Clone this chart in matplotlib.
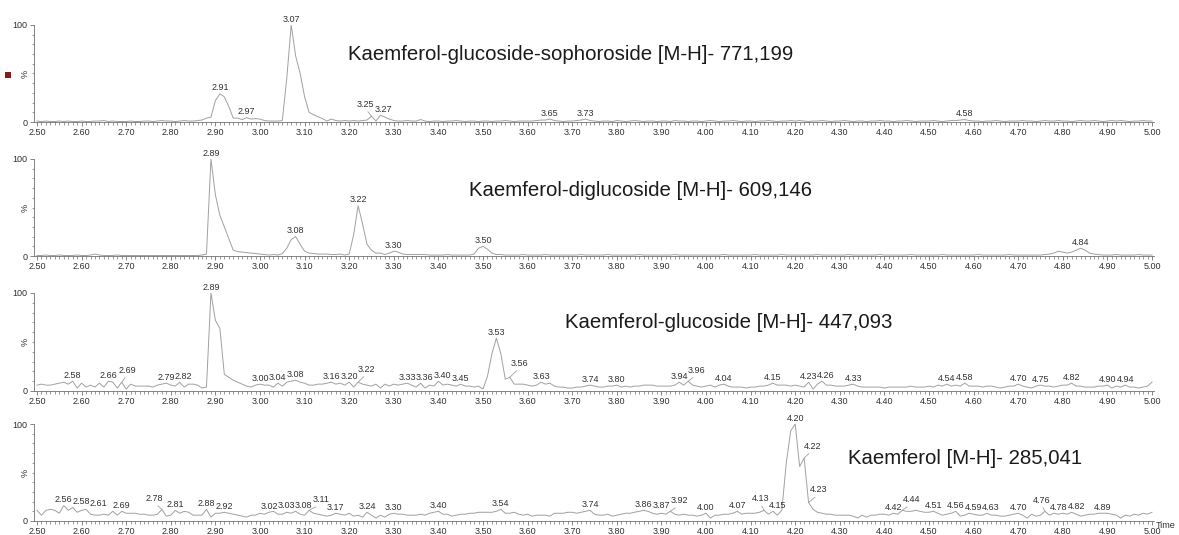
import numpy as np
import matplotlib
matplotlib.use("Agg")
import matplotlib.pyplot as plt
from matplotlib.ticker import FixedLocator, MultipleLocator, FormatStrFormatter
from matplotlib.patches import Rectangle

plt.rcParams['font.family'] = ['Liberation Sans', 'DejaVu Sans']

# Retention time axis of the extracted-ion chromatograms (min), one scan every 0.01 min
scan_times = np.round(np.arange(2.50, 5.0001, 0.01), 2)

# Relative intensity (%) per scan, m/z 771,199
kgs_771 = [
    1.0, 0.5, 1.0, 0.5, 0.5, 1.0, 0.5, 1.0, 0.5, 0.5,
    1.0, 0.5, 0.5, 1.0, 1.0, 1.5, 0.5, 1.0, 0.5, 0.5,
    0.5, 1.0, 0.5, 0.5, 1.0, 1.0, 0.5, 1.0, 1.5, 1.0,
    1.0, 0.5, 1.0, 1.5, 1.0, 1.0, 1.5, 2.0, 4.0, 5.0,
    22, 29, 26, 16, 4, 4, 2.5, 4.5, 3, 3.5,
    3, 1.5, 1, 1, 1, 1.5, 45, 100, 68, 50,
    26, 10, 7.5, 5.5, 3.5, 1, 3, 1.5, 1, 1.5,
    1, 1.5, 1, 1.5, 2, 6, 1, 7, 5, 3,
    1.5, 1, 1, 1.5, 1, 1, 2.5, 1, 0.5, 1,
    1, 0.5, 1, 1, 1.5, 1, 0.5, 1, 1, 0.5,
    1, 1, 0.5, 1, 1, 1.5, 1, 0.5, 1, 1,
    1, 1, 1.5, 2, 2, 3, 1.5, 1, 0.5, 1,
    1, 1.5, 2, 3, 1.5, 1, 0.5, 1, 1, 0.5,
    1.5, 1, 0.5, 1, 1.5, 1, 0.5, 1, 1, 0.5,
    1, 1, 0.5, 1.5, 1, 1, 0.5, 1, 1, 0.5,
    1, 1.5, 1, 0.5, 1, 1, 1.5, 1, 0.5, 1,
    1, 0.5, 1, 1, 1.5, 1, 0.5, 1, 1, 1.5,
    1, 1.5, 1, 0.5, 1, 1, 1.5, 1, 0.5, 1,
    1, 1.5, 1, 0.5, 1, 1, 0.5, 1, 1, 1.5,
    1, 1, 0.5, 1, 1, 1.5, 1, 0.5, 1, 1,
    1, 1.5, 1, 0.5, 1, 1.5, 1.5, 2, 2.5, 1.5,
    1, 1, 0.5, 1, 1, 1.5, 1, 0.5, 1, 1,
    1, 1.5, 1, 1, 0.5, 1, 1.5, 1, 1, 1.5,
    1, 1, 0.5, 1, 1.5, 1, 1, 1.5, 1, 0.5,
    1, 1.5, 1, 1.5, 1, 0.5, 1, 1, 1.5, 1,
    1,
]

# m/z 609,146
kdg_609 = [
    0.5, 0.5, 1, 0.5, 0.5, 1, 0.5, 0.5, 0.5, 1,
    0.5, 0.5, 1, 2, 1, 0.5, 0.5, 0.5, 1, 0.5,
    0.5, 0.5, 0.5, 0.5, 0.5, 0.5, 0.5, 0.5, 0.5, 0.5,
    0.5, 0.5, 0.5, 0.5, 0.5, 0.5, 0.5, 1, 2, 100,
    63, 42, 30, 18, 6, 4.5, 4, 3.5, 3, 2.5,
    2, 1.5, 1, 1.5, 1, 2.5, 8, 17, 20, 12,
    5, 3, 2.5, 2, 2, 2, 1.5, 1.5, 2, 1,
    2, 22, 52, 33, 12, 6, 3, 3, 1.5, 3,
    5, 4, 2, 1.5, 1.5, 1.5, 1.5, 1.5, 1, 1,
    1, 1, 1.5, 1, 1, 1, 1, 1, 2, 8,
    10, 7, 3, 1.5, 1.5, 1, 1, 1, 1, 1.5,
    1, 1, 1, 1, 1.5, 1, 1, 1, 1, 1,
    1, 1, 1.5, 1, 1, 1, 1, 1, 1.5, 1,
    1, 1, 1, 1, 1, 1.5, 1, 1, 1, 1,
    1, 1, 1, 1.5, 1, 1, 1, 1, 1, 1,
    1, 1, 1, 1, 1.5, 1, 1, 1, 1, 1,
    1, 1.5, 1, 1, 1, 1, 1, 1.5, 1, 1,
    1, 1, 1, 1, 1, 1.5, 1, 1, 1, 1,
    1, 1, 1.5, 1, 1, 1, 1, 1, 1, 1.5,
    1, 1, 1, 1, 1, 1, 1.5, 1, 1, 1,
    1, 1, 1, 1.5, 1, 1, 1, 1, 1, 1,
    1, 1.5, 1, 1, 1, 1, 1, 1, 1.5, 1,
    1, 1, 1, 1, 1, 1, 1.5, 2, 3, 5,
    4, 3, 4, 6, 8, 6, 3, 2, 1.5, 1,
    1, 1, 1.5, 1, 1, 1, 1, 1.5, 1, 1,
    1,
]

# m/z 447,093
kg_447 = [
    6, 7, 6, 6, 7, 8, 9, 7, 10, 3,
    8, 4, 6, 4, 8, 4, 10, 9, 3, 9,
    2, 7, 5, 5, 5, 5, 4, 6, 7, 8,
    6, 5, 9, 4, 7, 7, 6, 3, 4, 100,
    72, 64, 17, 14, 11, 9, 7, 5, 4, 6,
    7, 6, 6, 4, 8, 5, 9, 10, 11, 9,
    8, 6, 6, 7, 7, 8, 9, 7, 8, 6,
    9, 4, 9, 7, 6, 5, 7, 3, 7, 5,
    7, 6, 7, 8, 6, 4, 8, 3, 6, 5,
    10, 6, 7, 6, 5, 7, 5, 5, 4, 5,
    2, 15, 38, 54, 38, 12, 14, 7, 7, 7,
    6, 5, 6, 9, 7, 8, 5, 4, 4, 3,
    3, 4, 4, 5, 6, 5, 4, 4, 5, 5,
    6, 4, 5, 4, 5, 5, 6, 6, 6, 5,
    5, 5, 5, 6, 9, 6, 10, 6, 5, 4,
    5, 6, 4, 6, 7, 5, 4, 4, 4, 3,
    4, 4, 5, 5, 6, 8, 6, 6, 6, 5,
    6, 5, 4, 9, 2, 7, 10, 6, 6, 5,
    5, 5, 6, 7, 5, 4, 4, 4, 4, 4,
    3, 4, 4, 4, 4, 4, 5, 4, 4, 4,
    5, 4, 6, 5, 7, 5, 6, 5, 8, 5,
    5, 5, 4, 5, 5, 4, 3, 4, 5, 5,
    7, 5, 4, 3, 5, 6, 5, 5, 4, 5,
    6, 6, 8, 5, 5, 4, 4, 4, 5, 5,
    6, 3, 5, 4, 6, 4, 4, 3, 4, 5,
    9,
]

# m/z 285,041
k_285 = [
    11, 6, 11, 12, 11, 8, 16, 11, 14, 9,
    11, 12, 7, 6, 6, 7, 6, 10, 6, 10,
    8, 8, 8, 7, 7, 6, 6, 7, 12, 5,
    6, 11, 8, 10, 9, 6, 6, 6, 12, 4,
    8, 8, 9, 8, 7, 6, 5, 4, 6, 6,
    8, 7, 9, 10, 7, 7, 9, 8, 10, 7,
    6, 11, 8, 7, 6, 5, 6, 8, 7, 6,
    8, 5, 6, 4, 9, 6, 3, 6, 4, 7,
    8, 7, 7, 6, 6, 6, 7, 6, 8, 9,
    10, 7, 7, 5, 6, 7, 7, 8, 8, 9,
    9, 9, 9, 10, 12, 8, 8, 9, 7, 6,
    7, 5, 6, 6, 6, 5, 8, 8, 8, 9,
    9, 8, 9, 10, 11, 7, 6, 6, 7, 5,
    6, 7, 8, 8, 9, 10, 11, 10, 8, 7,
    8, 7, 10, 7, 6, 7, 6, 6, 5, 6,
    8, 3, 6, 6, 7, 7, 8, 10, 7, 8,
    8, 8, 9, 11, 7, 10, 6, 11, 60, 93,
    100, 56, 65, 19, 12, 9, 8, 7, 7, 6,
    6, 6, 6, 5, 3, 6, 4, 6, 6, 7,
    7, 6, 8, 7, 11, 10, 10, 11, 10, 9,
    9, 10, 8, 6, 7, 8, 10, 5, 6, 8,
    7, 6, 6, 8, 6, 6, 5, 5, 6, 7,
    8, 6, 3, 7, 5, 6, 10, 6, 8, 7,
    8, 7, 9, 7, 5, 6, 7, 7, 8, 8,
    8, 7, 6, 3, 6, 5, 7, 6, 8, 7,
    9,
]

traces = [kgs_771, kdg_609, kg_447, k_285]

titles = [
    "Kaemferol-glucoside-sophoroside [M-H]- 771,199",
    "Kaemferol-diglucoside [M-H]- 609,146",
    "Kaemferol-glucoside [M-H]- 447,093",
    "Kaemferol [M-H]- 285,041",
]

# Retention times annotated on each trace
peak_times = [
    [2.91, 2.97, 3.07, 3.25, 3.27, 3.65, 3.73, 4.58],
    [2.89, 3.08, 3.22, 3.30, 3.50, 4.84],
    [2.58, 2.66, 2.69, 2.79, 2.82, 2.89, 3.00, 3.04, 3.08, 3.16, 3.20, 3.22,
     3.33, 3.36, 3.40, 3.45, 3.53, 3.56, 3.63, 3.74, 3.80, 3.94, 3.96, 4.04,
     4.15, 4.23, 4.26, 4.33, 4.54, 4.58, 4.70, 4.75, 4.82, 4.90, 4.94],
    [2.56, 2.58, 2.61, 2.69, 2.78, 2.81, 2.88, 2.92, 3.02, 3.03, 3.08, 3.11,
     3.17, 3.24, 3.30, 3.40, 3.54, 3.74, 3.86, 3.87, 3.92, 4.00, 4.07, 4.13,
     4.15, 4.20, 4.22, 4.23, 4.42, 4.44, 4.51, 4.56, 4.59, 4.63, 4.70, 4.76,
     4.78, 4.82, 4.89],
]

# Labels lifted off their peak and tied back with a leader line: (dt, d%)
leader_offsets = [
    {3.25: (-0.013, 6)},
    {},
    {2.69: (0.012, 6), 3.22: (0.018, 7), 3.56: (0.022, 8), 3.96: (0.012, 5)},
    {2.78: (-0.016, 5), 3.11: (0.018, 5), 3.92: (0.02, 5), 4.13: (-0.008, 6),
     4.22: (0.018, 6), 4.23: (0.022, 7), 4.44: (0.02, 5), 4.76: (-0.008, 5)},
]

# ---- layout (pixels) ----
W, H = 1179, 535
fig = plt.figure(figsize=(W / 100, H / 100), dpi=100)
fig.patch.set_facecolor("white")

x_left, x_right = 34, 1154
px_per_min = 446.0
t_left = 2.50 - 3 / px_per_min
t_right = t_left + (x_right - x_left) / px_per_min
rows = [(122, 25), (256, 159), (391, 293), (521, 424)]   # (0 %, 100 %) pixel rows
title_pos = [(348, 54), (469, 190), (565, 322), (848, 459)]

line_col = "#a0a0a0"
axis_col = "#707070"
text_col = "#303030"
lab_fs = 6.5
label_w = 0.039          # width of a "x.xx" label in minutes
label_h = 8.0            # height of a label in %

for k, (vals, title) in enumerate(zip(traces, titles)):
    y0, y100 = rows[k]
    ax = fig.add_axes([x_left / W, 1 - y0 / H, (x_right - x_left) / W, (y0 - y100) / H])
    ax.set_xlim(t_left, t_right)
    ax.set_ylim(0, 100)
    ax.set_facecolor("none")
    ax.plot(scan_times, vals, color=line_col, lw=0.7, clip_on=False, solid_joinstyle="miter")

    for s in ("top", "right"):
        ax.spines[s].set_visible(False)
    for s in ("left", "bottom"):
        ax.spines[s].set_color(axis_col)
        ax.spines[s].set_linewidth(0.6)
    ax.spines["left"].set_bounds(0, 100)

    ax.xaxis.set_major_locator(FixedLocator(np.round(np.arange(2.5, 5.001, 0.1), 2)))
    ax.xaxis.set_minor_locator(FixedLocator(np.round(np.arange(2.5, 5.001, 0.01), 2)))
    ax.xaxis.set_major_formatter(FormatStrFormatter("%.2f"))
    ax.yaxis.set_major_locator(FixedLocator([0, 100]))
    ax.yaxis.set_minor_locator(MultipleLocator(10))
    ax.tick_params(axis="both", which="major", length=3, width=0.6, color=axis_col,
                   labelsize=lab_fs, labelcolor=text_col, pad=1.5)
    ax.tick_params(axis="both", which="minor", length=1.8, width=0.5, color=axis_col)
    ax.text(-0.0075, 0.5, "%", transform=ax.transAxes, rotation=90, ha="center",
            va="center", fontsize=lab_fs, color=text_col)

    # peak labels, placed left to right without overlapping
    entries = []
    for pt in peak_times[k]:
        i = int(round((pt - 2.50) / 0.01))
        v = vals[i]
        dt, dv = leader_offsets[k].get(pt, (0.0, 0.0))
        entries.append([pt, v, pt + dt, v + dv + 1.5, pt in leader_offsets[k]])
    entries.sort(key=lambda e: e[2])
    placed = []
    for e in entries:
        for p in placed:
            if abs(p[3] - e[3]) < label_h and e[2] - p[2] < label_w:
                e[2] = p[2] + label_w
        placed.append(e)
    for pt, v, tx, ty, lead in placed:
        if lead:
            ax.annotate(f"{pt:.2f}", xy=(pt, v), xytext=(tx, ty), ha="center", va="bottom",
                        fontsize=lab_fs, color=text_col, annotation_clip=False,
                        arrowprops=dict(arrowstyle="-", color=line_col, lw=0.6,
                                        shrinkA=0, shrinkB=0, relpos=(0.5, 0.0)))
        else:
            ax.text(tx, ty, f"{pt:.2f}", ha="center", va="bottom", fontsize=lab_fs,
                    color=text_col, clip_on=False)

    tx, ty = title_pos[k]
    fig.text(tx / W, 1 - ty / H, title, fontsize=14.7, color="#1a1a1a",
             ha="left", va="center")

fig.text(1176 / W, 1 - 526 / H, "Time", fontsize=lab_fs, color=text_col,
         ha="right", va="center")
fig.add_artist(Rectangle((5 / W, 1 - 78 / H), 6 / W, 6 / H, transform=fig.transFigure,
                         facecolor="#8b1a1a", edgecolor="none"))

fig.savefig("out.png", dpi=100)
